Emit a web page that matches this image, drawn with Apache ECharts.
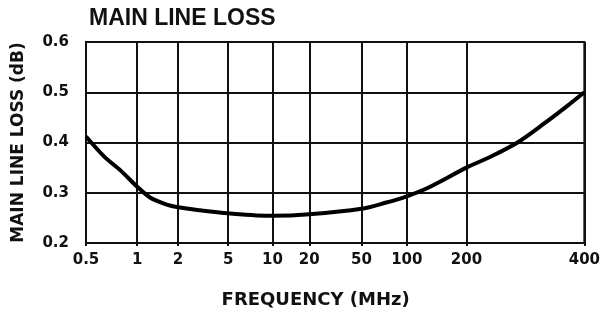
<!DOCTYPE html>
<html>
<head>
<meta charset="utf-8">
<script src="https://cdn.jsdelivr.net/npm/echarts@6/dist/echarts.min.js"></script>
<style>
  html, body { margin: 0; padding: 0; background: #fff; }
  #main { width: 603px; height: 314px; }
</style>
</head>
<body>
<div id="main"></div>
<script>
// frequency labels on the x axis and where each sits along it (the printed scale is not uniform)
var freqTicks = [0.5, 1, 2, 5, 10, 20, 50, 100, 200, 400];
var tickStops = [0, 51.5, 92.5, 143, 187.5, 224.5, 277, 322.5, 382.5, 501];

// curve: frequency (MHz) -> loss (dB)
var freq = [0.5, 0.64, 0.8, 1, 1.25, 1.63, 2, 3, 5, 10, 20, 50, 72, 100, 128, 200, 231, 270, 316, 362, 400];
var loss = [0.412, 0.372, 0.344, 0.312, 0.290, 0.277, 0.271, 0.265, 0.259, 0.254, 0.257, 0.268, 0.280, 0.293, 0.310, 0.350, 0.372, 0.400, 0.438, 0.473, 0.500];

// map a frequency onto the chart's piecewise log scale
function freqToAxis(f) {
    for (var i = 0; i < freqTicks.length - 1; i++) {
        var a = freqTicks[i], b = freqTicks[i + 1];
        if (f <= b || i == freqTicks.length - 2) {
            var t = Math.log(f / a) / Math.log(b / a);
            return tickStops[i] + t * (tickStops[i + 1] - tickStops[i]);
        }
    }
}

var lineData = freq.map(function (f, i) { return [freqToAxis(f), loss[i]]; });

var labelFont = {
    fontFamily: 'DejaVu Sans',
    fontWeight: 'bold',
    color: '#111'
};

var myChart = echarts.init(document.getElementById('main'), null, { renderer: 'canvas' });
myChart.setOption({
    animation: false,
    backgroundColor: '#fff',
    title: {
        text: 'MAIN LINE LOSS',
        left: 84,
        top: 2,
        textStyle: { fontFamily: 'Liberation Sans', fontWeight: 'bold', fontSize: 23, color: '#111' }
    },
    grid: {
        left: 86, right: 16, top: 42, bottom: 64,
        show: true, borderColor: '#111', borderWidth: 2
    },
    xAxis: {
        type: 'value',
        min: 0,
        max: tickStops[tickStops.length - 1],
        name: 'FREQUENCY (MHz)',
        nameLocation: 'middle',
        nameGap: 48,
        nameTextStyle: Object.assign({ fontSize: 18, padding: [0, 39, 0, 0] }, labelFont),
        axisLine: { lineStyle: { color: '#111', width: 2 } },
        axisTick: { show: true, length: 3, customValues: tickStops, lineStyle: { color: '#111', width: 2 } },
        axisLabel: Object.assign({
            fontSize: 15,
            margin: 10,
            customValues: tickStops,
            formatter: function (v) {
                var i = tickStops.indexOf(v);
                return i >= 0 ? String(freqTicks[i]) : '';
            }
        }, labelFont),
        splitLine: { show: true, lineStyle: { color: '#111', width: 2 } }
    },
    yAxis: {
        type: 'value',
        min: 0.2,
        max: 0.6,
        interval: 0.1,
        name: 'MAIN LINE LOSS (dB)',
        nameLocation: 'middle',
        nameGap: 59,
        nameTextStyle: Object.assign({ fontSize: 17 }, labelFont),
        axisLine: { show: true, lineStyle: { color: '#111', width: 2 } },
        axisTick: { show: false },
        axisLabel: Object.assign({
            fontSize: 15,
            margin: 17,
            formatter: function (v) { return v.toFixed(1); }
        }, labelFont),
        splitLine: { show: true, lineStyle: { color: '#111', width: 2 } }
    },
    series: [{
        type: 'line',
        data: lineData,
        smooth: 0.3,
        showSymbol: false,
        lineStyle: { color: '#000', width: 4 }
    }]
});
</script>
</body>
</html>
